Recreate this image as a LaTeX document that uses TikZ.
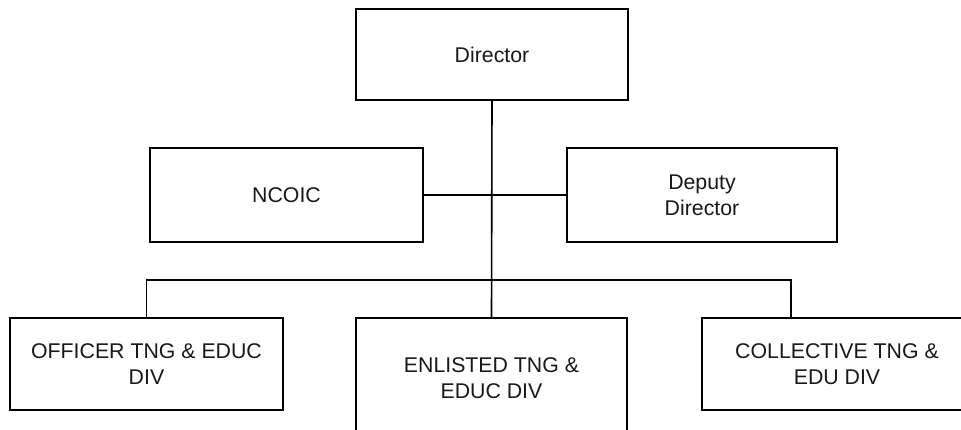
\documentclass[tikz,border=0pt]{standalone}
\usepackage{fontspec}
\setmainfont{Liberation Sans}
\begin{document}
\begin{tikzpicture}[x=1pt,y=-1pt,
  orgbox/.style={draw=black, line width=1.6pt, fill=white, align=center,
    inner sep=0pt, font=\fontsize{21.3}{26}\selectfont, text=black!90},
  link/.style={draw=black, line width=1.6pt}]
  \useasboundingbox (0,0) rectangle (961,429);
  \clip (0,0) rectangle (961,429);

  % top level
  \node[orgbox, minimum width=272pt, minimum height=91pt] (dir) at (492,54.5) {Director};

  % staff level
  \node[orgbox, minimum width=273pt, minimum height=94pt] (nco) at (286.5,195) {NCOIC};
  \node[orgbox, minimum width=270pt, minimum height=94pt] (dep) at (702,195) {Deputy\\Director};

  % divisions
  \node[orgbox, minimum width=273pt, minimum height=92pt] (off) at (146.5,364) {OFFICER TNG \& EDUC\\DIV};
  \node[orgbox, minimum width=271pt, minimum height=120pt] (enl) at (491.5,378) {ENLISTED TNG \&\\EDUC DIV};
  \node[orgbox, minimum width=270pt, minimum height=92pt] (col) at (837,364) {COLLECTIVE TNG \&\\EDU DIV};

  % connection points
  \coordinate (bus) at (492,280);
  \coordinate (colTap) at (791,318);

  % connectors
  \draw[link] (dir.south) -- (enl.north);
  \draw[link] (nco.east) -- (dep.west);
  \draw[link] (off.north) |- (bus) -| (colTap);
\end{tikzpicture}
\end{document}
